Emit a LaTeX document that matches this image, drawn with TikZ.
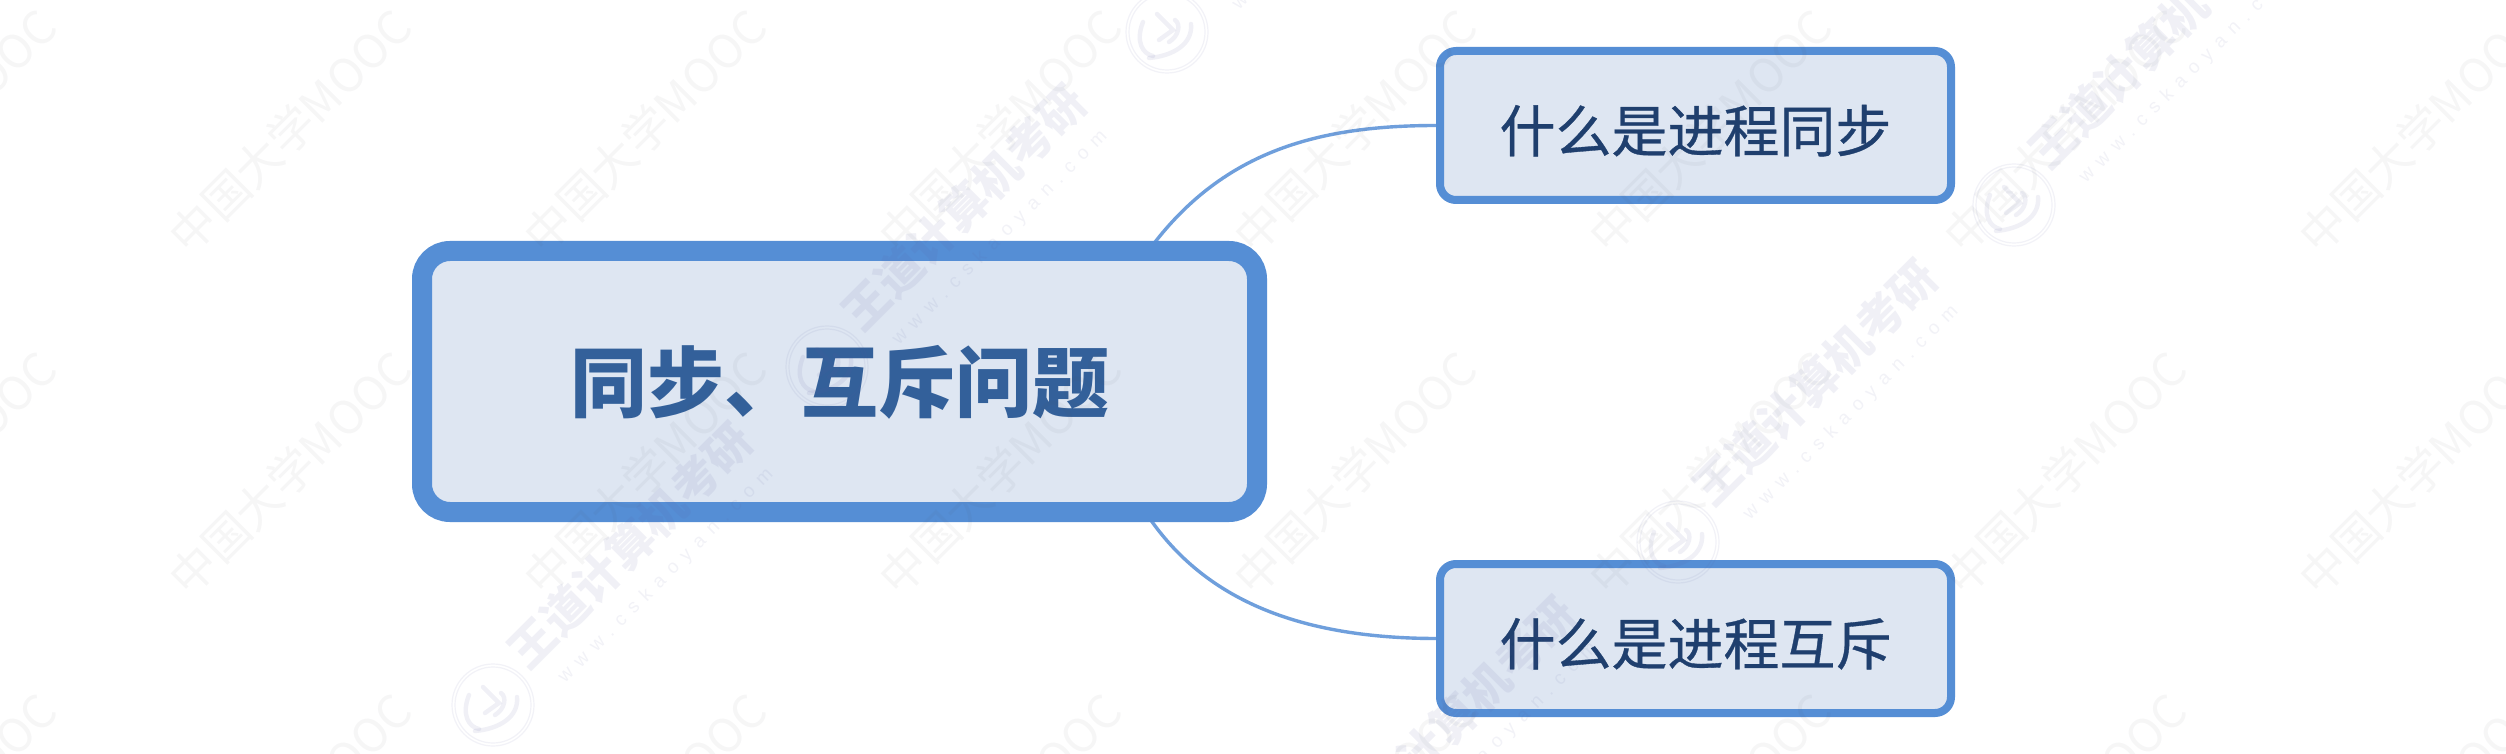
\documentclass[tikz,border=0pt]{standalone}
\usepackage{fontspec}
\newfontfamily\cjk{Noto Sans CJK SC}
\newfontfamily\cjkmid[FakeBold=0.6]{Noto Sans CJK SC}
\newfontfamily\latinwm[LetterSpace=45]{Liberation Sans}
\definecolor{boxline}{HTML}{558ED5}
\definecolor{boxfill}{HTML}{DEE6F2}
\definecolor{linkline}{HTML}{6F9FDC}
\definecolor{roottext}{HTML}{33609A}
\definecolor{childtext}{HTML}{1F3F6E}
\definecolor{wmgray}{HTML}{50505A}
\definecolor{wmblue}{HTML}{5A5FA0}
\tikzset{
  rootbox/.style={draw=boxline,fill=boxfill,line width=10pt,rounded corners=14pt,
    minimum width=417.5pt,minimum height=130.5pt,inner sep=0pt,
    text height=40pt,text depth=9.8pt,
    font=\cjk\bfseries\fontsize{38.5}{44}\selectfont,text=roottext},
  childbox/.style={draw=boxline,fill=boxfill,line width=4pt,rounded corners=8pt,
    minimum width=255.5pt,minimum height=74.5pt,inner sep=0pt,
    text height=30pt,text depth=3.6pt,
    font=\cjkmid\fontsize{28}{32}\selectfont,text=childtext},
  linkcurve/.style={draw=linkline,line width=1.7pt},
  moocmark/.style={rotate=45,inner sep=0pt,text=wmgray,text opacity=0.05,
    font=\cjk\fontsize{23}{26}\selectfont},
  brandmark/.style={rotate=45,inner sep=0pt,text=wmblue,text opacity=0.09,
    font=\cjk\bfseries\fontsize{23}{26}\selectfont},
  sitemark/.style={rotate=45,inner sep=0pt,text=wmblue,text opacity=0.08,
    font=\latinwm\fontsize{9.5}{11}\selectfont},
  logoline/.style={draw=wmblue,draw opacity=0.08,line width=0.6pt},
  logostroke/.style={draw=wmblue,draw opacity=0.09,line width=2.2pt,line cap=round},
}
\begin{document}
\begin{tikzpicture}[x=0.5pt,y=-0.5pt]
\useasboundingbox (0,0) rectangle (2506,754);
\fill[white] (0,0) rectangle (2506,754);
\coordinate (rootup) at (1152,246);
\coordinate (rootdown) at (1148,516);
\coordinate (syncend) at (1440,125.5);
\coordinate (mutexend) at (1440,638.5);
\draw[linkcurve] (rootup) .. controls (1225,150) and (1320,125) .. (syncend);
\draw[linkcurve] (rootdown) .. controls (1205,600) and (1300,639) .. (mutexend);
\node[rootbox] (root) at (839.5,381.5) {同步、互斥问题};
\node[childbox] (sync) at (1695.5,125.5) {什么是进程同步};
\node[childbox] (mutex) at (1695.5,638.5) {什么是进程互斥};
% watermarks: MOOC lattice
\foreach \col/\x in {0/-65,1/290,2/645,3/1000,4/1355,5/1710,6/2065,7/2420}{
  \foreach \row/\y in {0/131,1/473,2/815}{
    \node[moocmark] (mooc\col\row) at (\x,\y) {中国大学MOOC};
  }
}
% watermarks: brand group
\foreach \k/\lx/\ly in {a/493/705,b/827/367,c/1167/32,d/1678/542,e/2014/205,f/1317/879}{
  \node[brandmark] (brand\k) at ({\lx+137},{\ly-160}) {王道计算机考研};
  \node[sitemark] (site\k) at ({\lx+173},{\ly-129}) {www.cskaoyan.com};
  \draw[logoline] (\lx,\ly) circle[radius=41];
  \draw[logoline] (\lx,\ly) circle[radius=38];
  \draw[logostroke] ({\lx-24},{\ly-10}) .. controls ({\lx-32},{\ly+10}) and ({\lx-24},{\ly+22}) .. ({\lx-14},{\ly+24});
  \draw[logostroke] ({\lx+24},{\ly-8}) .. controls ({\lx+26},{\ly+12}) and ({\lx+6},{\ly+24}) .. ({\lx-18},{\ly+26});
  \draw[logostroke] ({\lx-10},{\ly-18}) -- ({\lx+6},{\ly-2}) -- ({\lx-8},{\ly+8});
  \draw[logostroke] ({\lx+2},{\ly+10}) .. controls ({\lx+12},{\ly+4}) and ({\lx+14},{\ly-8}) .. ({\lx+8},{\ly-12});
}
\end{tikzpicture}
\end{document}
